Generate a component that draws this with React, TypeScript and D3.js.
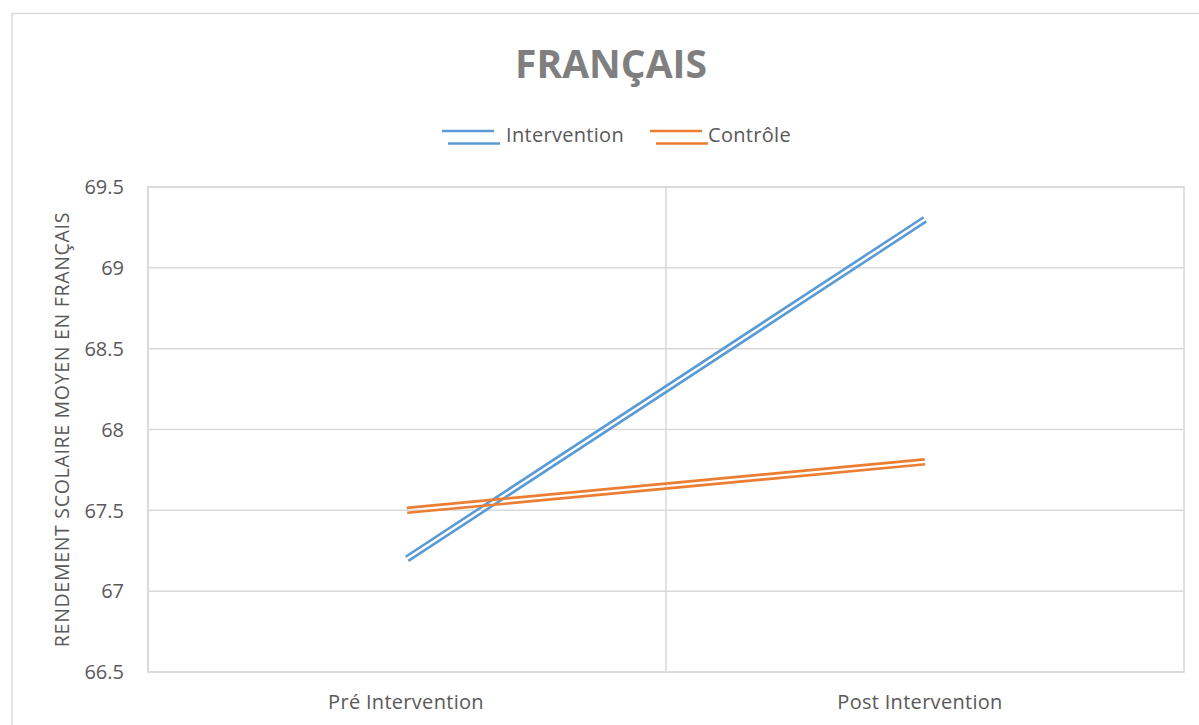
import React from "react";
import * as d3 from "d3";

const categories = ["Pré Intervention", "Post Intervention"];
const seriesNames = ["Intervention", "Contrôle"];
const interventionValues = [67.2, 69.3];
const controleValues = [67.5, 67.8];
const yTicks = [66.5, 67, 67.5, 68, 68.5, 69, 69.5];
const titleText = "FRANÇAIS";
const yAxisTitle = "RENDEMENT SCOLAIRE MOYEN EN FRANÇAIS";

const W = 1199;
const H = 725;
const FONT = "'Open Sans', 'DejaVu Sans', sans-serif";
const TEXT = "#595959";
const GRID = "#d9d9d9";
const COLORS = ["#5b9bd5", "#ed7d31"];

export default function App() {
  const plot = { left: 148, top: 187, right: 1184, bottom: 672 };
  const x = d3
    .scaleBand<string>()
    .domain(categories)
    .range([plot.left, plot.right])
    .paddingInner(0)
    .paddingOuter(0);
  const y = d3.scaleLinear().domain([66.5, 69.5]).range([plot.bottom, plot.top]);
  const cx = (c: string) => (x(c) as number) + x.bandwidth() / 2;

  const series = [interventionValues, controleValues];
  const line = d3
    .line<number>()
    .x((_, i) => cx(categories[i]))
    .y((v) => y(v));

  const off = 2.5;
  const sw = 2.6;

  return (
    <svg
      width={W}
      height={H}
      style={{ position: "absolute", left: 0, top: 0, background: "#fff" }}
      fontFamily={FONT}
    >
      <rect x={0} y={0} width={W} height={H} fill="#fff" />
      {/* outer chart frame */}
      <rect x={12} y={13.5} width={1300} height={800} fill="none" stroke={GRID} strokeWidth={1.5} />

      {/* title */}
      <text x={611} y={78} textAnchor="middle" fontSize={39} fontWeight="bold" fill="#7f7f7f">
        {titleText}
      </text>

      {/* legend */}
      {[
        { name: seriesNames[0], x0: 442, tx: 506 },
        { name: seriesNames[1], x0: 650, tx: 708 },
      ].map((l, i) => (
        <g key={l.name}>
          <line x1={l.x0} x2={l.x0 + 52} y1={131} y2={131} stroke={COLORS[i]} strokeWidth={2.6} />
          <line x1={l.x0 + 6} x2={l.x0 + 58} y1={143.5} y2={143.5} stroke={COLORS[i]} strokeWidth={2.6} />
          <text x={l.tx} y={141.5} fontSize={20} letterSpacing={0.3} fill={TEXT}>
            {l.name}
          </text>
        </g>
      ))}

      {/* horizontal gridlines */}
      {yTicks.map((t) => (
        <line key={t} x1={plot.left} x2={plot.right} y1={y(t)} y2={y(t)} stroke={GRID} strokeWidth={1.5} />
      ))}
      {/* vertical gridlines at category boundaries */}
      {categories.map((c) => (
        <line
          key={c}
          x1={x(c) as number}
          x2={x(c) as number}
          y1={plot.top}
          y2={plot.bottom}
          stroke={GRID}
          strokeWidth={1.5}
        />
      ))}
      <rect
        x={plot.left}
        y={plot.top}
        width={plot.right - plot.left}
        height={plot.bottom - plot.top}
        fill="none"
        stroke={GRID}
        strokeWidth={1.5}
      />

      {/* y tick labels */}
      {yTicks.map((t) => (
        <text key={t} x={124} y={y(t)} dy="0.36em" textAnchor="end" fontSize={20} fill={TEXT}>
          {String(t)}
        </text>
      ))}

      {/* x labels */}
      {categories.map((c, i) => (
        <text
          key={c}
          x={cx(c) - (i === 0 ? 1 : 5)}
          y={709}
          textAnchor="middle"
          fontSize={20}
          letterSpacing={0.3}
          fill={TEXT}
        >
          {c}
        </text>
      ))}

      {/* y axis title */}
      <text
        transform={`translate(68.5, ${(plot.top + plot.bottom) / 2}) rotate(-90)`}
        textAnchor="middle"
        fontSize={19.5}
        letterSpacing={0.7}
        fill={TEXT}
      >
        {yAxisTitle}
      </text>

      {/* double lines */}
      {series.map((vals, i) => {
        const x0 = cx(categories[0]);
        const x1 = cx(categories[1]);
        const y0 = y(vals[0]);
        const y1 = y(vals[1]);
        const dx = x1 - x0;
        const dy = y1 - y0;
        const len = Math.hypot(dx, dy);
        const nx = -dy / len;
        const ny = dx / len;
        const d = line(vals) || "";
        return (
          <g key={i}>
            {[-1, 1].map((s) => (
              <path
                key={s}
                d={d}
                transform={`translate(${nx * off * s}, ${ny * off * s})`}
                fill="none"
                stroke={COLORS[i]}
                strokeWidth={sw}
                strokeLinecap="butt"
              />
            ))}
          </g>
        );
      })}
    </svg>
  );
}
